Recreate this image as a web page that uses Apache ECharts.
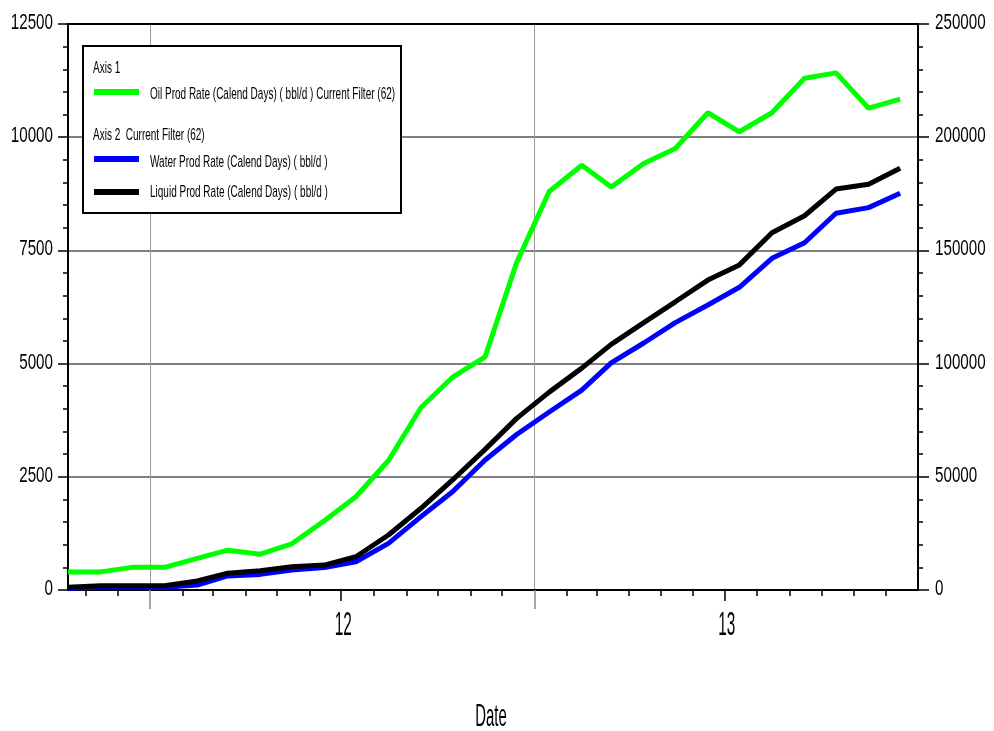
<!DOCTYPE html>
<html>
<head>
<meta charset="utf-8">
<script src="https://cdn.jsdelivr.net/npm/echarts@6/dist/echarts.min.js"></script>
<style>
  html, body { margin: 0; padding: 0; background: #fff; }
  #chart { width: 994px; height: 731px; }
</style>
</head>
<body>
<div id="chart"></div>
<script>
// Monthly production samples (mid-month)
const dates = [
  '2011-10-15', '2011-11-15', '2011-12-15',
  '2012-01-15', '2012-02-15', '2012-03-15', '2012-04-15', '2012-05-15', '2012-06-15',
  '2012-07-15', '2012-08-15', '2012-09-15', '2012-10-15', '2012-11-15', '2012-12-15',
  '2013-01-15', '2013-02-15', '2013-03-15', '2013-04-15', '2013-05-15', '2013-06-15',
  '2013-07-15', '2013-08-15', '2013-09-15', '2013-10-15', '2013-11-15', '2013-12-15'
];
// Axis 1 (bbl/d)
const oilRate = [
  400, 400, 500, 500, 700, 880, 790, 1020, 1530, 2060, 2860, 4030, 4700, 5150,
  7230, 8800, 9380, 8900, 9420, 9750, 10540, 10120, 10540, 11300, 11420, 10640, 10840
];
// Axis 2 (bbl/d)
const waterRate = [
  700, 1400, 1400, 1200, 2200, 6200, 6900, 8800, 9900, 12500, 20600, 32400, 43400, 57400,
  68700, 78600, 88300, 100300, 109100, 118100, 125900, 133700, 146500, 153400, 166400, 168900, 175200
];
const liquidRate = [
  1200, 1900, 1900, 1900, 4000, 7400, 8500, 10300, 11000, 14700, 24300, 36100, 48600, 62100,
  75800, 87400, 98000, 108500, 118100, 127300, 136900, 143600, 157800, 165300, 177100, 179200, 186300
];
// Tick labels
const leftTicks = [0, 2500, 5000, 7500, 10000, 12500];
const rightTicks = [0, 50000, 100000, 150000, 200000, 250000];
// Year labels sit at mid-year, year boundaries carry the grid lines
const yearLabelDates = ['2012-07-01', '2013-07-01'];
const yearLabelTexts = ['12', '13'];
const yearStartDates = ['2012-01-01', '2013-01-01'];

const seriesNames = [
  'Oil Prod Rate (Calend Days) ( bbl/d ) Current Filter (62)',
  'Water Prod Rate (Calend Days) ( bbl/d )',
  'Liquid Prod Rate (Calend Days) ( bbl/d )'
];

const FONT = "'Liberation Sans', Arial, sans-serif";
const ts = s => Date.parse(s); // ISO dates parse as UTC
const xMin = ts('2011-10-15');
const xMax = ts('2014-01-01');

// First of every month along the axis, except the longer Jan/Jul marks
const monthTicks = [];
for (let t = Date.UTC(2011, 10, 1); t <= Date.UTC(2013, 11, 1); ) {
  const d = new Date(t);
  const m = d.getUTCMonth();
  if (m !== 0 && m !== 6) monthTicks.push(t);
  t = Date.UTC(d.getUTCFullYear(), m + 1, 1);
}

const pairs = vals => dates.map((d, i) => [ts(d), vals[i]]);

const baseX = {
  type: 'time', min: xMin, max: xMax, gridIndex: 0,
  axisLabel: { show: false }, splitLine: { show: false },
  axisPointer: { show: false }
};

const chart = echarts.init(document.getElementById('chart'));

const option = {
  animation: false,
  backgroundColor: '#fff',
  grid: { left: 68, right: 76, top: 24, bottom: 141, containLabel: false, outerBoundsMode: 'none' },
  xAxis: [
    Object.assign({}, baseX, {
      position: 'bottom',
      axisLine: { show: true, lineStyle: { color: '#000', width: 2 } },
      axisTick: { show: true, customValues: monthTicks, length: 6, lineStyle: { color: '#000', width: 1.5 } }
    }),
    Object.assign({}, baseX, {
      position: 'bottom',
      axisLine: { show: false },
      axisTick: { show: true, customValues: yearLabelDates.map(ts), length: 11, lineStyle: { color: '#000', width: 1.5 } }
    }),
    Object.assign({}, baseX, {
      position: 'bottom',
      axisLine: { show: false },
      axisTick: { show: true, customValues: yearStartDates.map(ts), length: 19, lineStyle: { color: '#8a8a8a', width: 1.5 } },
      splitLine: { show: true, showMinLine: false, showMaxLine: false, lineStyle: { color: '#9a9a9a', width: 1 } }
    }),
    Object.assign({}, baseX, {
      position: 'top', z: 5,
      axisLine: { show: true, lineStyle: { color: '#000', width: 2 } },
      axisTick: { show: false }
    })
  ],
  yAxis: [
    {
      type: 'value', position: 'left', min: 0, max: 12500, interval: 2500,
      axisLine: { show: true, lineStyle: { color: '#000', width: 2 } },
      axisTick: { show: true, inside: false, length: 10, lineStyle: { color: '#000', width: 1.5 } },
      minorTick: { show: true, splitNumber: 5, length: 5, lineStyle: { color: '#000', width: 1.5 } },
      axisLabel: { show: false },
      splitLine: { show: true, showMinLine: false, showMaxLine: false, lineStyle: { color: '#7f7f7f', width: 2 } }
    },
    {
      type: 'value', position: 'right', min: 0, max: 250000, interval: 50000,
      axisLine: { show: true, lineStyle: { color: '#000', width: 2 } },
      axisTick: { show: true, inside: false, length: 11, lineStyle: { color: '#000', width: 1.5 } },
      minorTick: { show: true, splitNumber: 5, length: 5, lineStyle: { color: '#000', width: 1.5 } },
      axisLabel: { show: false },
      splitLine: { show: false }
    }
  ],
  series: [
    {
      name: seriesNames[1], type: 'line', xAxisIndex: 0, yAxisIndex: 1,
      data: pairs(waterRate), showSymbol: false, symbol: 'none',
      lineStyle: { color: '#0000ff', width: 5 }, itemStyle: { color: '#0000ff' }
    },
    {
      name: seriesNames[2], type: 'line', xAxisIndex: 0, yAxisIndex: 1,
      data: pairs(liquidRate), showSymbol: false, symbol: 'none',
      lineStyle: { color: '#000000', width: 5 }, itemStyle: { color: '#000000' }
    },
    {
      name: seriesNames[0], type: 'line', xAxisIndex: 0, yAxisIndex: 0,
      data: pairs(oilRate), showSymbol: false, symbol: 'none',
      lineStyle: { color: '#00ff00', width: 5 }, itemStyle: { color: '#00ff00' }
    }
  ]
};

chart.setOption(option);

// Tall, condensed text helper
function tallText(id, x, y, text, size, sx, sy, align) {
  return {
    type: 'text', id: id, x: x, y: y, scaleX: sx, scaleY: sy, z: 20,
    style: {
      text: text, fill: '#000', fontSize: size, fontFamily: FONT,
      textAlign: align, align: align, textVerticalAlign: 'middle', verticalAlign: 'middle'
    }
  };
}

const axisBottom = chart.convertToPixel({ yAxisIndex: 0 }, 0);
const gridLeft = chart.convertToPixel({ xAxisIndex: 0 }, xMin);
const gridRight = chart.convertToPixel({ xAxisIndex: 0 }, xMax);
const graphics = [];

// Value labels on both vertical axes
leftTicks.forEach((v, i) => graphics.push(
  tallText('yl' + i, gridLeft - 15, chart.convertToPixel({ yAxisIndex: 0 }, v) - 1,
           String(v), 22, 0.69, 1.0, 'right')));
rightTicks.forEach((v, i) => graphics.push(
  tallText('yr' + i, gridRight + 17, chart.convertToPixel({ yAxisIndex: 1 }, v) - 1,
           String(v), 22, 0.69, 1.0, 'left')));

// Year labels and axis title
yearLabelDates.forEach((d, i) => graphics.push(
  tallText('year' + i, chart.convertToPixel({ xAxisIndex: 0 }, ts(d)) + 2, axisBottom + 36,
           yearLabelTexts[i], 24, 0.64, 1.4, 'center')));
graphics.push(tallText('xname', (gridLeft + gridRight) / 2 - 2, axisBottom + 127, 'Date', 18, 0.83, 1.78, 'center'));

// Legend box grouped by axis
graphics.push({
  type: 'rect', id: 'lg_box', z: 19,
  shape: { x: 83, y: 46, width: 318, height: 167 },
  style: { fill: '#fff', stroke: '#000', lineWidth: 2 }
});
[
  tallText('lg_ax1', 93, 68, 'Axis 1', 10, 1, 1.7, 'left'),
  { type: 'line', id: 'lg_s0', shape: { x1: 94, y1: 92, x2: 139, y2: 92 }, style: { stroke: '#00ff00', lineWidth: 6 }, z: 20 },
  tallText('lg_oil', 150, 94, seriesNames[0], 10, 1, 1.7, 'left'),
  tallText('lg_ax2', 93, 135, 'Axis 2  Current Filter (62)', 10, 1, 1.7, 'left'),
  { type: 'line', id: 'lg_s1', shape: { x1: 94, y1: 159, x2: 139, y2: 159 }, style: { stroke: '#0000ff', lineWidth: 6 }, z: 20 },
  tallText('lg_water', 150, 162, seriesNames[1], 10, 1, 1.7, 'left'),
  { type: 'line', id: 'lg_s2', shape: { x1: 94, y1: 192, x2: 139, y2: 192 }, style: { stroke: '#000000', lineWidth: 6 }, z: 20 },
  tallText('lg_liquid', 150, 192, seriesNames[2], 10, 1, 1.7, 'left')
].forEach(g => graphics.push(g));

chart.setOption({ graphic: graphics });
</script>
</body>
</html>
